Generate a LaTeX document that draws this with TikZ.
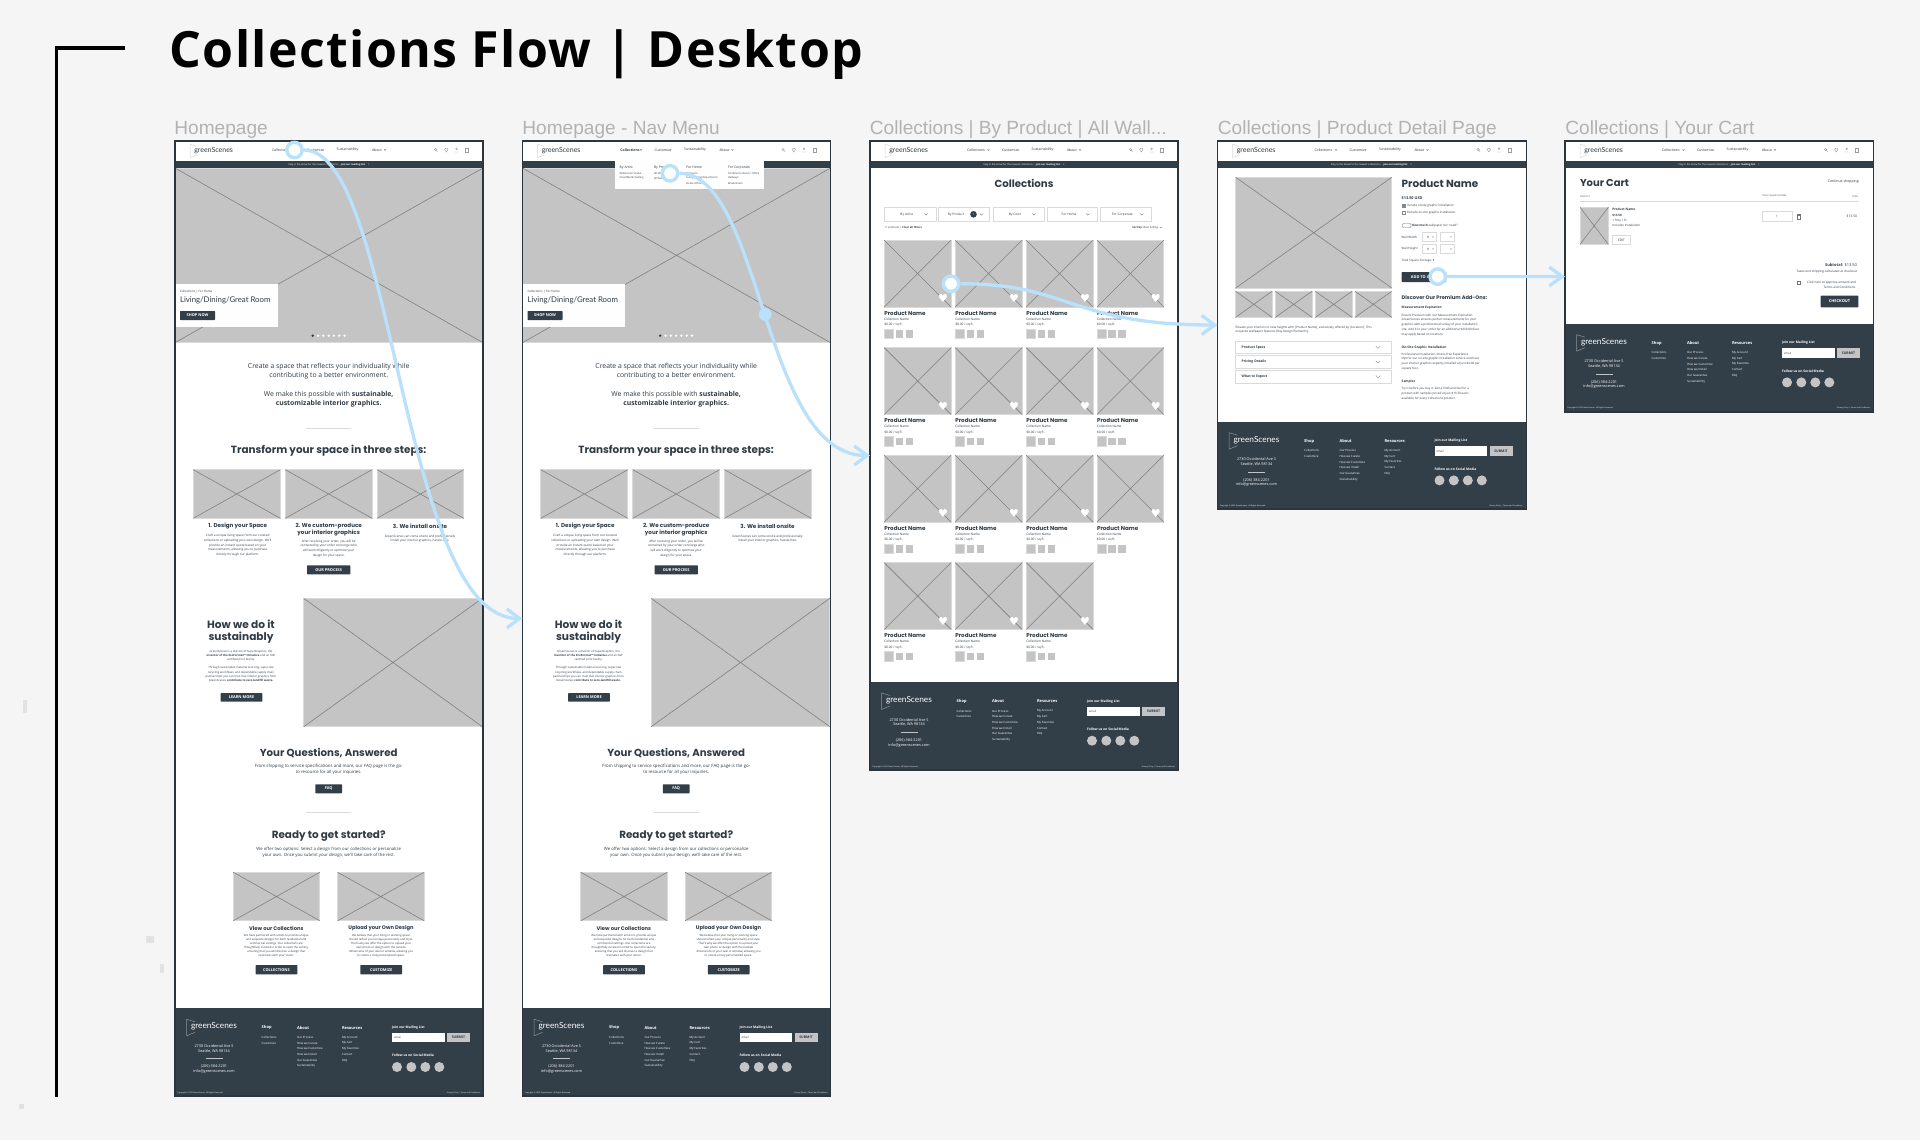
\documentclass[tikz,border=0pt]{standalone}
\usepackage{fontspec}
\setmainfont{Open Sans}
\newfontfamily\titlefont[LetterSpace=2.8]{Open Sans}
\newfontfamily\headfont{Poppins}
\newfontfamily\logofont{Lato}
\newfontfamily\capfont{Liberation Sans}
\newfontfamily\symfont{DejaVu Sans}
\usetikzlibrary{arrows.meta}

\definecolor{pagebg}{HTML}{F5F5F5}
\definecolor{ink}{HTML}{2F3B45}
\definecolor{slate}{HTML}{323E48}
\definecolor{wirefill}{HTML}{C4C4C4}
\definecolor{wireline}{HTML}{808080}
\definecolor{wireedge}{HTML}{DADADA}
\definecolor{flowblue}{HTML}{B9E1FC}
\definecolor{captiongrey}{HTML}{B2B2B2}
\definecolor{marks}{HTML}{E2E2E2}

\tikzset{
  tx/.style={inner sep=0pt, outer sep=0pt, text=ink, align=center},
  lft/.style={anchor=west, align=left},
  rgt/.style={anchor=east, align=right},
  fs/.style 2 args={font=\fontsize{#1}{#2}\selectfont},
  hd/.style 2 args={font=\headfont\bfseries\fontsize{#1}{#2}\selectfont},
  lg/.style={font=\logofont\fontsize{#1}{#1}\selectfont},
  caption/.style={inner sep=0pt, anchor=west, text=captiongrey, font=\capfont\fontsize{9.55}{12}\selectfont},
  screen/.style={anchor=north west, fill=white, inner sep=0pt, outer sep=0pt},
  frameline/.style={draw=ink!90!black, line width=.55pt},
  wirex/.style={draw=wireline, line width=.3pt},
  btext/.style={inner sep=0pt, text=white, font=\bfseries\fontsize{1.95}{2}\selectfont},
  box/.style={draw=wireedge, line width=.45pt, fill=white},
  chevline/.style={draw=#1, line width=.18pt},
  hot/.style={circle, draw=flowblue, line width=1.7pt, fill=white!98!flowblue, minimum size=7.7pt, inner sep=0pt},
  flow/.style={draw=flowblue, line width=1.65pt},
  flowarrow/.style={flow, -{Straight Barb[length=6.5pt, width=9.5pt, line width=1.65pt]}},
  flowdot/.style={circle, fill=flowblue, minimum size=6.4pt, inner sep=0pt},
}

\newcounter{tn}
\newcommand{\tx}[4][]{\stepcounter{tn}\node[tx,#1] (t\arabic{tn}) at (#2,#3) {#4};}
\newcommand{\wire}[4]{%
  \fill[wirefill] (#1,#2) rectangle (#3,#4);
  \draw[draw=wireedge, line width=.35pt] (#1,#2) rectangle (#3,#4);
  \draw[wirex] (#1,#2) -- (#3,#4) (#1,#4) -- (#3,#2);
}
\newcommand{\btn}[5]{\stepcounter{tn}\fill[slate, rounded corners=.3pt] (#1,#2) rectangle node[btext] (t\arabic{tn}) {#5} (#3,#4);}
\newcommand{\chev}[4][ink]{\draw[chevline=#1] (#2,#3) +(-#4,-#4/2) -- +(0,#4/2) -- +(#4,-#4/2);}

\newcommand{\navbar}[2][]{%
  \begin{scope}[shift={(#2,141)}]
    \fill[slate] (0,20) rectangle (308,27);
    \draw[draw=wireedge, line width=.25pt] (21.7,5.5) -- (15,3) -- (15,16.7) -- (21.7,14);
    \tx[lft, lg=3.5]{19.3}{9.2}{greenScenes}
    \tx[lft, fs={1.75}{2}]{97}{9}{#1 Collections}
    \chev[ink]{118.5}{9}{.9}
    \tx[lft, fs={1.75}{2}]{132}{9}{Customize}
    \tx[lft, fs={1.75}{2}]{161.7}{9}{Sustainability}
    \tx[lft, fs={1.75}{2}]{197}{9}{About}
    \chev[ink]{210}{9}{.9}
    \draw[ink!50, line width=.2pt] (260.5,8.5) circle[radius=1.2] (261.4,9.4) -- (262.6,10.6);
    \draw[ink!50, line width=.2pt] (271.3,11) -- (269.6,8.6) -- (270.4,7.4) -- (271.3,8) -- (272.2,7.4) -- (273,8.6) -- cycle;
    \draw[ink!50, line width=.2pt] (281.6,7.8) circle[radius=.9] (279.8,11) -- (283.4,11);
    \draw[ink!50, line width=.2pt] (290.4,7.5) rectangle (293.4,11);
    \tx[fs={1.25}{1.5}, text=white]{154}{23.5}{Stay in the know for the newest collections... \textbf{join our mailing list.}\quad ×}
  \end{scope}
}

\newcommand{\footerbar}[2]{%
  \begin{scope}[shift={(#1,#2)}]
    \fill[slate] (0,0) rectangle (308,87.7);
    \draw[draw=white!45!slate, line width=.25pt] (20,13.5) -- (11.7,11) -- (11.7,27.4) -- (20,24);
    \tx[lft, lg=4.15, text=white]{16}{18.4}{greenScenes}
    \tx[fs={1.9}{2.35}, text=white]{39}{40.4}{2730 Occidental Ave S\\Seattle, WA 98134}
    \draw[white!70!slate, line width=.2pt] (30.7,50) -- (47.7,50);
    \tx[fs={1.9}{2.35}, text=white]{39}{61}{(206) 384-2201\\info@greenscenes.com}
    \tx[lft, fs={2}{2.4}, text=white]{86.7}{19.4}{\bfseries Shop}
    \tx[lft, fs={2}{2.4}, text=white]{122}{19.4}{\bfseries About}
    \tx[lft, fs={2}{2.4}, text=white]{167}{19.4}{\bfseries Resources}
    \tx[lft, fs={1.65}{2}, text=white]{217}{19.4}{\bfseries Join our Mailing List}
    \foreach \yy/\lbl in {29/Collections, 34.7/Customize}{\tx[lft, fs={1.45}{2}, text=white]{86.7}{\yy}{\lbl}}
    \foreach \yy/\lbl in {29/Our Process, 34.7/How we Curate, 40.4/How we Customize, 46.1/How we Install, 51.9/Our Guarantee, 57.9/Sustainability}{\tx[lft, fs={1.45}{2}, text=white]{122}{\yy}{\lbl}}
    \foreach \yy/\lbl in {29/My Account, 34.7/My Cart, 40.4/My Favorites, 46.1/Contact, 51.9/FAQ}{\tx[lft, fs={1.45}{2}, text=white]{167}{\yy}{\lbl}}
    \fill[white] (217,24.7) rectangle (269.7,34);
    \tx[lft, fs={1.4}{2}]{219}{29.4}{email}
    \stepcounter{tn}\fill[wirefill] (272,24.7) rectangle node[inner sep=0pt, text=ink, font=\bfseries\fontsize{1.75}{2}\selectfont] (t\arabic{tn}) {SUBMIT} (295,34);
    \tx[lft, fs={1.65}{2}, text=white]{217}{47.4}{\bfseries Follow us on Social Media}
    \foreach \xx in {222,236.3,250.3,264.3}{\fill[wirefill] (\xx,58.7) circle[radius=5];}
    \tx[lft, fs={.95}{1}, text=white]{2.3}{84.7}{Copyright © 2023 GreenScenes. All Rights Reserved.}
    \tx[rgt, fs={.95}{1}, text=white]{305}{84.7}{Privacy Policy \textbar{} Terms and Conditions}
  \end{scope}
}

\newcommand{\homepage}[1]{%
  \begin{scope}[shift={(#1,0)}]
    \wire{175}{168}{483}{342.7}
    \fill[white!98!wirefill] (175,284) rectangle (277.5,327);
    \tx[lft, fs={1.5}{2}]{180}{292}{Collections \textbar{} For Home}
    \tx[lft, lg=3.9]{180}{300}{Living/Dining/Great Room}
    \btn{180}{311}{215}{320}{SHOP NOW}
    \fill[ink] (312.7,335.7) circle[radius=1.3];
    \foreach \xx in {318,323.3,328.6,333.9,339.2,344.5}{\fill[white] (\xx,335.7) circle[radius=1.3];}
    \tx[fs={3.42}{4.7}]{328.7}{371.3}{Create a space that reflects your individuality while\\contributing to a better environment.}
    \tx[fs={3.42}{4.7}]{328.7}{399.5}{We make this possible with \textbf{sustainable,}\\\textbf{customizable interior graphics.}}
    \draw[wireedge, line width=.5pt] (306,428) -- (351,428);
    \tx[hd={5.2}{6}]{328.7}{451}{Transform your space in three steps:}
    \wire{193.3}{469.7}{280.3}{518.3}
    \wire{285.3}{469.7}{372}{518.3}
    \wire{377}{469.7}{463.7}{518.3}
    \tx[hd={2.8}{3.45}]{237.7}{526}{1. Design your Space}
    \tx[hd={2.8}{3.45}]{328.7}{529.5}{2. We custom-produce\\your interior graphics}
    \tx[hd={2.8}{3.45}]{420}{526}{3. We install onsite}
    \tx[fs={1.55}{2.35}]{237.7}{545.2}{Craft a unique living space from our curated\\collections or uploading your own design. We'll\\provide an instant quote based on your\\measurements, allowing you to purchase\\directly through our platform.}
    \tx[fs={1.55}{2.35}]{328.7}{548.4}{After receiving your order, you will be\\contacted by your order concierge who\\will work diligently to optimize your\\design for your space.}
    \tx[fs={1.55}{2.35}]{420}{538.7}{GreenScenes can come onsite and professionally\\install your interior graphics, hassle-free.}
    \btn{307}{565.3}{350.3}{574.3}{OUR PROCESS}
    \tx[hd={5.3}{6.2}]{241}{631.8}{How we do it\\sustainably}
    \tx[fs={1.42}{2.15}]{241}{655.6}{GreenScenes is a division of SuperGraphics, the\\\textbf{inventor of the EcoFormat™ Initiative} and an SGP\\certified print facility.}
    \tx[fs={1.42}{2.15}]{241}{674.2}{Through sustainable material sourcing, super-low\\recycling workflows, and dependable supply chain\\partnerships you can trust that interior graphics from\\GreenScenes \textbf{contribute to zero-landfill waste.}}
    \btn{220.7}{693}{262.3}{701.7}{LEARN MORE}
    \wire{303.7}{598.3}{482.3}{726.7}
    \tx[hd={5.1}{6}]{328.7}{752.7}{Your Questions, Answered}
    \tx[fs={2.17}{3}]{328.7}{769.3}{From shipping to service specifications and more, our FAQ page is the go-\\to resource for all your inquiries.}
    \btn{315.3}{784.3}{342}{793.3}{FAQ}
    \draw[wireedge, line width=.5pt] (306,812.3) -- (351,812.3);
    \tx[hd={5.2}{6}]{328.7}{835.7}{Ready to get started?}
    \tx[fs={2.14}{3}]{328.7}{852.3}{We offer two options: Select a design from our collections or personalize\\your own. Once you submit your design, we'll take care of the rest.}
    \wire{233.3}{872.3}{319.7}{920.7}
    \wire{337.7}{872.3}{424}{920.7}
    \tx[hd={2.6}{3.4}]{276.3}{928}{View our Collections}
    \tx[hd={2.6}{3.4}]{381}{928}{Upload your Own Design}
    \tx[fs={1.42}{2.05}]{276.3}{945.5}{We have partnered with artists to provide unique\\and exquisite designs for both residential and\\commercial settings. Our collections are\\thoughtfully curated in order to open the variety,\\ensuring that you will discover a design that\\resonates with your vision.}
    \tx[fs={1.42}{2.05}]{381}{945.5}{We believe that your living or working space\\should reflect your unique personality and style.\\That's why we offer the option to upload your\\own photo or design with the outside\\dimensions of your wall or window, allowing you\\to create a truly personalized space.}
    \btn{255.7}{965}{297.3}{974.3}{COLLECTIONS}
    \btn{360.3}{965}{402}{974.3}{CUSTOMIZE}
  \end{scope}
}

\newcommand{\product}[2]{%
  \begin{scope}[shift={(#1,#2)}]
    \wire{0}{0}{66.7}{66.7}
    \tx[text=white, font=\symfont\fontsize{5.5}{6}\selectfont]{58.7}{58.3}{♥}
    \tx[lft, hd={2.8}{3}]{0}{73}{Product Name}
    \tx[lft, fs={1.6}{2}]{0}{79}{Collection Name}
    \tx[lft, fs={1.6}{2}]{0}{84.7}{\$0.00 / sq ft.}
    \draw[draw=wireedge, line width=.4pt, fill=wirefill] (0,88.9) rectangle (9,98.3);
    \fill[wirefill] (11.3,90) rectangle (19,97.3);
    \fill[wirefill] (21.3,90) rectangle (29,97.3);
  \end{scope}
}

\begin{document}
\begin{tikzpicture}[x=.5pt, y=-.5pt]
\fill[pagebg] (0,0) rectangle (1920,1140);
\useasboundingbox (0,0) rectangle (1920,1140);

% stray marks
\fill[marks] (23,700) rectangle (26.7,713);
\fill[marks] (145.7,936) rectangle (153.7,943);
\fill[marks] (160,964) rectangle (163.7,973);
\fill[marks] (19.3,1104) rectangle (24,1109);

% title
\coordinate (brtop) at (125,48);
\coordinate (brbot) at (56.7,1096.5);
\draw[black, line width=1.7pt] (brtop) -| (brbot);
\node[inner sep=0pt, anchor=base west, text=black, font=\titlefont\bfseries\fontsize{25}{30}\selectfont] (title) at (169,67.5) {Collections Flow | Desktop};

% captions
\node[caption] (capHome) at (174,129.5) {Homepage};
\node[caption] (capNav) at (522,129.5) {Homepage - Nav Menu};
\node[caption] (capColl) at (869.5,129.5) {Collections | By Product | All Wall...};
\node[caption] (capPdp) at (1217.5,129.5) {Collections | Product Detail Page};
\node[caption] (capCart) at (1565,129.5) {Collections | Your Cart};

% screens
\node[screen, minimum width=154pt, minimum height=477.5pt] (home) at (175,141) {};
\node[screen, minimum width=154pt, minimum height=477.5pt] (nav) at (522.5,141) {};
\node[screen, minimum width=154pt, minimum height=314.5pt] (coll) at (870,141) {};
\node[screen, minimum width=154.3pt, minimum height=184pt] (pdp) at (1217.5,141) {};
\node[screen, minimum width=154.2pt, minimum height=135.5pt] (cart) at (1565,141) {};

% homepage
\homepage{0}
\navbar{175}
\footerbar{175}{1008.3}

% homepage with menu open
\homepage{347.5}
\navbar[\bfseries]{522.5}
\footerbar{522.5}{1008.3}
\fill[white!98!wirefill] (614.7,161) rectangle (764.3,189.3);
\tx[lft, fs={1.7}{2}]{619.7}{167.3}{By Artist}
\tx[lft, fs={1.3}{2}]{619.7}{173.3}{Williamson Studio}
\tx[lft, fs={1.3}{2}]{619.7}{178.3}{SmartWorks Gallery}
\tx[lft, fs={1.7}{2}]{654}{167.3}{By Product}
\tx[lft, fs={1.3}{2}]{654}{173.3}{3D Wall}
\tx[lft, fs={1.3}{2}]{654}{178.3}{All Wall}
\tx[lft, fs={1.7}{2}]{686.3}{167.3}{For Home}
\tx[lft, fs={1.3}{2}]{686.3}{173.3}{Bedroom}
\tx[lft, fs={1.3}{2}]{686.3}{178.3}{Living/Dining/Great Room}
\tx[lft, fs={1.3}{2}]{686.3}{183.5}{Home Office}
\tx[lft, fs={1.7}{2}]{728}{167.3}{For Corporate}
\tx[lft, fs={1.3}{2}]{728}{173.3}{Conference Room / Office}
\tx[lft, fs={1.3}{2}]{728}{178.3}{Hallways}
\tx[lft, fs={1.3}{2}]{728}{183.5}{Break Room}

% collections
\navbar{870}
\footerbar{870}{682}
\tx[hd={5.1}{6}]{1024}{183.7}{Collections}
\foreach \xa/\xb/\lbl in {884.7/936/By Artist, 993/1044/By Color, 1047/1097.7/For Home, 1100.3/1151.7/For Corporate}{
  \draw[box] (\xa,207.3) rectangle (\xb,221.3);
  \tx[fs={1.6}{2}]{\xa+22}{214.3}{\lbl}
  \chev[ink!70]{\xb-10}{214.3}{1.6}
}
\draw[box] (938.7,207.3) rectangle (989.7,221.3);
\tx[fs={1.6}{2}]{956}{214.3}{By Product}
\fill[slate] (973.5,214.3) circle[radius=3.3];
\tx[fs={1.4}{2}, text=white]{973.5}{214.3}{1}
\chev[ink!70]{981.5}{214.3}{1.6}
\tx[lft, fs={1.35}{2}]{884.3}{227.7}{11 products \textbar{} \textbf{Clear all filters}}
\tx[rgt, fs={1.35}{2}]{1158}{227.7}{\textbf{Sort by:} Best Selling}
\chev[ink!70]{1160.7}{227.7}{.9}
\foreach \yy in {240.3,347.7,455.3}{
  \foreach \xx in {884.3,955.3,1026.3,1097}{\product{\xx}{\yy}}
}
\foreach \xx in {884.3,955.3,1026.3}{\product{\xx}{562.7}}

% product page
\navbar{1217.5}
\footerbar{1217.5}{421.7}
\wire{1235.7}{177.3}{1391.7}{288}
\wire{1235.7}{291.3}{1272}{317.3}
\wire{1275.3}{291.3}{1312}{317.3}
\wire{1315.3}{291.3}{1352}{317.3}
\wire{1355}{291.3}{1391.7}{317.3}
\tx[lft, fs={1.52}{2.35}]{1235.7}{329.7}{Elevate your interiors to new heights with [Product Name], exclusively offered by [Location]. This\\exquisite wallpaper features [Key Design Elements].}
\foreach \ya/\yb/\lbl in {341/353.7/Product Specs, 355.7/368.3/Pricing Details, 370.3/383/What to Expect}{
  \pgfmathsetmacro\ymid{(\ya+\yb)/2}
  \draw[box] (1235.7,\ya) rectangle (1391.7,\yb);
  \tx[lft, fs={1.7}{2}]{1241.7}{\ymid}{\bfseries\lbl}
  \chev[ink!60]{1378}{\ymid}{2.2}
}
\tx[lft, hd={5.2}{6}]{1401.7}{184}{Product Name}
\tx[lft, fs={1.9}{2}]{1401.7}{198}{\bfseries \$13.50 USD}
\draw[ink!60, line width=.2pt, fill=ink!60] (1402,203.8) rectangle (1405,206.8);
\tx[lft, fs={1.5}{2}]{1407}{205.3}{Include onsite graphic installation}
\draw[ink!60, line width=.2pt] (1402,210.8) rectangle (1405,213.8);
\tx[lft, fs={1.5}{2}]{1407}{212.3}{Exclude on-site graphic installation}
\draw[ink!70, line width=.2pt, rounded corners=.5pt] (1402.5,223.5) rectangle (1411,227.5);
\tx[lft, fs={1.5}{2}]{1412}{225.7}{\textbf{How much} wallpaper do I need?}
\tx[lft, fs={1.5}{2}]{1401.7}{237}{Wall Width:}
\tx[lft, fs={1.5}{2}]{1401.7}{249}{Wall Height:}
\foreach \yy in {237,249}{
  \draw[box] (1422.7,\yy-4.6) rectangle (1436,\yy+4.6);
  \draw[box] (1440,\yy-4.6) rectangle (1454.7,\yy+4.6);
  \tx[fs={1.5}{2}]{1428}{\yy}{ft}
  \chev[ink!60]{1433}{\yy}{.8}
  \chev[ink!60]{1451}{\yy}{.8}
}
\tx[lft, fs={1.5}{2}]{1401.7}{261}{Total Square Footage: \textbf{1}}
\btn{1401.7}{272}{1446}{282}{ADD TO CART}
\tx[lft, hd={2.55}{3}]{1401.7}{297}{Discover Our Premium Add-Ons:}
\tx[lft, fs={1.62}{2}]{1401.7}{308}{\bfseries Measurement Expiration}
\tx[lft, fs={1.5}{2.37}]{1401.7}{324.8}{Ensure Precision with our Measurement Expiration.\\GreenScenes ensures perfect measurements for your\\graphics with a professional survey of your installation\\site. Add it to your order for an additional \$350.00 (fees\\may apply based on location).}
\tx[lft, fs={1.62}{2}]{1401.7}{347.3}{\bfseries On-Site Graphic Installation}
\tx[lft, fs={1.5}{2.37}]{1401.7}{361.4}{Professional Installation, Stress-Free Experience.\\Opt for our on-site graphic installation service and have\\your interior graphics expertly installed at just \$4.00 per\\square foot.}
\tx[lft, fs={1.62}{2}]{1401.7}{381.7}{\bfseries Samples}
\tx[lft, fs={1.5}{2.37}]{1401.7}{393.5}{Try it before you buy it. Get a firsthand feel for a\\product with samples priced at just \$13.50 each,\\available for every Collections product.}

% cart
\navbar{1565}
\footerbar{1565}{323.7}
\tx[lft, hd={5}{6}]{1580}{183.3}{Your Cart}
\tx[rgt, fs={1.75}{2}]{1858.7}{181.7}{Continue shopping}
\tx[lft, fs={1.05}{2}]{1580}{196.3}{PRODUCT}
\tx[lft, fs={1.05}{2}]{1762}{196.3}{TOTAL SQUARE FOOTAGE}
\tx[rgt, fs={1.05}{2}]{1858}{196.3}{TOTAL}
\draw[wireedge, line width=.5pt] (1580,201.3) -- (1858.7,201.3);
\wire{1580}{207.3}{1608.3}{244.3}
\tx[lft, fs={1.6}{2}]{1612.3}{209.7}{\bfseries Product Name}
\tx[lft, fs={1.5}{2}]{1612.3}{215.7}{\bfseries \$13.50}
\tx[lft, fs={1.5}{2}]{1612.3}{220.3}{1 ft by 1 ft.}
\tx[lft, fs={1.5}{2}]{1612.3}{225.3}{Includes Installation}
\stepcounter{tn}\draw[box] (1612.3,235.7) rectangle node[inner sep=0pt, text=ink, font=\fontsize{1.6}{2}\selectfont] (t\arabic{tn}) {EDIT} (1630.7,244.7);
\draw[box] (1762.3,211.3) rectangle (1792,221.7);
\tx[fs={1.5}{2}]{1777}{216.5}{1}
\draw[ink!70, line width=.25pt] (1797.3,215) rectangle (1800.1,219);
\draw[ink!70, line width=.25pt] (1796.7,214.7) -- (1800.7,214.7);
\tx[rgt, fs={1.65}{2}]{1857}{216.5}{\$13.50}
\tx[rgt, fs={2}{2.4}]{1857}{265}{\textbf{Subtotal:} \$13.50}
\tx[rgt, fs={1.55}{2}]{1857}{272}{Taxes and shipping calculated at checkout}
\draw[ink!70, line width=.2pt] (1797.3,281.3) rectangle (1800.1,284.1);
\tx[rgt, fs={1.55}{2.35}]{1856}{285}{Click here to approve artwork and\\Terms and Conditions.}
\stepcounter{tn}\fill[slate, rounded corners=.3pt] (1820.7,295.7) rectangle node[inner sep=0pt, text=white, font=\bfseries\fontsize{2}{2}\selectfont] (t\arabic{tn}) {CHECKOUT} (1858.3,307.3);

% frames on top
\foreach \scr in {home,nav,coll,pdp,cart}{
  \draw[frameline] (\scr.north west) rectangle (\scr.south east);
}

% flow
\node[hot] (hotHome) at (294.5,150) {};
\node[hot] (hotNav) at (670,173.3) {};
\node[hot] (hotColl) at (951,283.7) {};
\node[hot] (hotPdp) at (1437.7,276.6) {};
\draw[flowarrow] (hotHome) .. controls +(100.5,0) and +(-122.5,0) .. (nav.west);
\draw[flowarrow] (hotNav) .. controls +(92,0) and +(-108,0) .. node[flowdot, pos=.5] (midNav) {} (coll.west);
\draw[flowarrow] (hotColl) .. controls +(119,0) and +(-147,0) .. (pdp.west);
\draw[flowarrow] (hotPdp) -- (cart.west);

\end{tikzpicture}
\end{document}
